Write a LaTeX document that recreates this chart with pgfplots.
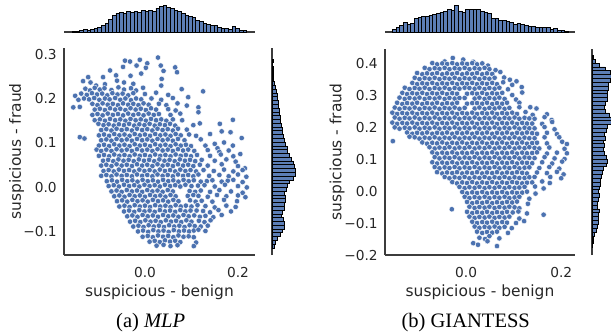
\documentclass[border=0pt]{standalone}
\usepackage{fontspec}
\setmainfont{DejaVu Sans}
\newfontfamily\capfont{Liberation Serif}
\usepackage{pgfplots}
\pgfplotsset{compat=1.18}
\definecolor{sbblue}{RGB}{76,114,176}
\definecolor{sbbar}{RGB}{92,126,182}
\definecolor{spine}{RGB}{60,60,60}
\definecolor{txt}{RGB}{38,38,38}
\newcommand{\tickfont}{\fontsize{10.3}{12}\selectfont}
\newcommand{\labfont}{\fontsize{11.6}{14}\selectfont}
\pgfplotsset{
  scat/.style={scale only axis, axis x line*=bottom, axis y line*=left,
    axis line style={spine, line width=0.9pt}, major tick length=0pt,
    tick label style={font=\tickfont, text=txt},
    label style={font=\labfont, text=txt},
    xtick={0,0.2}, xticklabels={0.0,0.2},
    xticklabel style={anchor=north, inner sep=0pt, yshift=-9.2pt},
    yticklabel style={anchor=east, inner sep=0pt, xshift=-5.25pt},
    xlabel={suspicious - benign}, ylabel={suspicious - fraud}},
  pts/.style={only marks, mark=*, mark size=2.05pt,
    mark options={fill=sbblue, draw=white, line width=0.3pt}},
  hst/.style={scale only axis, axis line style={spine, line width=0.9pt}, ticks=none},
  bars/.style={fill=sbbar, draw=black, line width=0.45pt},
}
\begin{document}
\begin{tikzpicture}
\useasboundingbox (0,0) rectangle (458.25pt,249.75pt);
% ---------------- (a) MLP ----------------
\begin{axis}[scat, at={(48pt,58.5pt)}, anchor=south west, width=143.25pt, height=155.25pt,
  xmin=-0.174, xmax=0.2366, ymin=-0.152, ymax=0.3135,
  ytick={-0.1,0,0.1,0.2,0.3}, yticklabels={−0.1,0.0,0.1,0.2,0.3},
  xlabel style={at={(axis description cs:0.5,-0.2014)}, anchor=base},
  ylabel style={at={(axis description cs:-0.2487,0.5)}, anchor=center}]
\addplot[pts] table[row sep=\\] {x y\\
-0.043 0.285\\ -0.032 0.283\\ -0.011 0.287\\ 0.028 0.292\\ 0.005 0.279\\
-0.075 0.263\\ -0.047 0.271\\ -0.018 0.274\\ 0.002 0.269\\ 0.034 0.274\\ 0.065 0.270\\ 0.069 0.259\\ 0.040 0.262\\
-0.122 0.248\\ -0.090 0.248\\ -0.031 0.251\\ 0.036 0.244\\ -0.062 0.252\\ -0.008 0.256\\
-0.133 0.239\\ -0.117 0.236\\ -0.105 0.229\\ -0.086 0.232\\ -0.060 0.240\\ -0.025 0.233\\ 0.035 0.229\\ -0.045 0.236\\
-0.128 0.222\\ -0.118 0.218\\ -0.108 0.224\\ -0.097 0.220\\ -0.087 0.223\\ -0.072 0.219\\ -0.057 0.225\\ -0.045 0.220\\ -0.030 0.223\\ -0.019 0.218\\ -0.004 0.224\\ 0.079 0.221\\ 0.125 0.216\\
-0.150 0.206\\ -0.137 0.211\\ -0.125 0.208\\ -0.114 0.212\\ -0.103 0.209\\ -0.092 0.211\\ -0.081 0.207\\ -0.070 0.212\\ -0.059 0.209\\ -0.048 0.211\\ -0.036 0.207\\ -0.025 0.212\\ 0.000 0.210\\ 0.024 0.213\\ 0.050 0.208\\
-0.143 0.197\\ -0.131 0.200\\ -0.120 0.198\\ -0.109 0.201\\ -0.098 0.197\\ -0.086 0.200\\ -0.076 0.198\\ -0.064 0.201\\ -0.053 0.197\\ -0.042 0.200\\ -0.030 0.196\\ -0.019 0.200\\ -0.008 0.198\\ 0.014 0.200\\ 0.035 0.197\\ 0.060 0.201\\ 0.093 0.203\\
-0.154 0.180\\ -0.140 0.181\\ -0.113 0.188\\ -0.102 0.185\\ -0.091 0.189\\ -0.080 0.186\\ -0.069 0.188\\ -0.058 0.185\\ -0.047 0.189\\ -0.036 0.186\\ -0.025 0.188\\ -0.014 0.185\\ -0.003 0.189\\ 0.008 0.186\\ 0.030 0.188\\ 0.046 0.185\\ 0.070 0.189\\ 0.090 0.184\\ 0.115 0.180\\
-0.108 0.175\\ -0.097 0.177\\ -0.086 0.174\\ -0.075 0.178\\ -0.064 0.175\\ -0.053 0.177\\ -0.042 0.174\\ -0.031 0.178\\ -0.020 0.175\\ -0.009 0.177\\ 0.002 0.174\\ 0.013 0.178\\ 0.024 0.175\\ 0.050 0.176\\ 0.066 0.173\\ 0.115 0.169\\
-0.113 0.163\\ -0.102 0.165\\ -0.091 0.162\\ -0.080 0.166\\ -0.069 0.163\\ -0.058 0.165\\ -0.047 0.162\\ -0.036 0.166\\ -0.025 0.163\\ -0.014 0.165\\ -0.003 0.162\\ 0.008 0.166\\ 0.019 0.163\\ 0.030 0.165\\ 0.055 0.163\\ 0.076 0.166\\
-0.108 0.151\\ -0.097 0.153\\ -0.086 0.150\\ -0.075 0.154\\ -0.064 0.151\\ -0.053 0.153\\ -0.042 0.150\\ -0.031 0.154\\ -0.020 0.151\\ -0.009 0.153\\ 0.002 0.150\\ 0.013 0.154\\ 0.024 0.151\\ 0.035 0.153\\ 0.046 0.150\\ 0.060 0.153\\ 0.080 0.151\\ 0.189 0.152\\
-0.100 0.143\\ -0.089 0.140\\ -0.078 0.142\\ -0.067 0.139\\ -0.056 0.142\\ -0.045 0.140\\ -0.034 0.143\\ -0.023 0.139\\ -0.012 0.142\\ -0.001 0.140\\ 0.010 0.143\\ 0.021 0.139\\ 0.032 0.142\\ 0.043 0.140\\ 0.054 0.143\\ 0.065 0.139\\ 0.104 0.140\\ 0.118 0.144\\ 0.161 0.143\\
-0.094 0.129\\ -0.083 0.131\\ -0.072 0.128\\ -0.061 0.132\\ -0.050 0.129\\ -0.039 0.131\\ -0.028 0.128\\ -0.017 0.132\\ -0.006 0.129\\ 0.005 0.131\\ 0.016 0.128\\ 0.027 0.132\\ 0.038 0.129\\ 0.049 0.131\\ 0.060 0.128\\ 0.071 0.132\\ 0.090 0.130\\ 0.140 0.120\\ 0.165 0.126\\ 0.184 0.124\\
-0.140 0.113\\ -0.130 0.110\\ -0.099 0.117\\ -0.088 0.119\\ -0.077 0.116\\ -0.066 0.120\\ -0.055 0.117\\ -0.044 0.119\\ -0.033 0.116\\ -0.022 0.120\\ -0.011 0.117\\ 0.000 0.119\\ 0.011 0.116\\ 0.022 0.120\\ 0.033 0.117\\ 0.044 0.119\\ 0.055 0.116\\ 0.066 0.120\\ 0.077 0.117\\ 0.095 0.119\\ 0.110 0.116\\ 0.208 0.111\\
-0.094 0.106\\ -0.083 0.108\\ -0.072 0.105\\ -0.061 0.109\\ -0.050 0.106\\ -0.039 0.108\\ -0.028 0.105\\ -0.017 0.109\\ -0.006 0.106\\ 0.005 0.108\\ 0.016 0.105\\ 0.027 0.109\\ 0.038 0.106\\ 0.049 0.108\\ 0.060 0.105\\ 0.071 0.109\\ 0.085 0.106\\ 0.120 0.108\\ 0.150 0.098\\ 0.170 0.101\\ 0.189 0.094\\
-0.099 0.094\\ -0.088 0.096\\ -0.077 0.093\\ -0.066 0.097\\ -0.055 0.094\\ -0.044 0.096\\ -0.033 0.093\\ -0.022 0.097\\ -0.011 0.094\\ 0.000 0.096\\ 0.011 0.093\\ 0.022 0.097\\ 0.033 0.094\\ 0.044 0.096\\ 0.055 0.093\\ 0.066 0.097\\ 0.077 0.094\\ 0.088 0.096\\ 0.099 0.093\\ 0.130 0.094\\ 0.156 0.088\\
-0.104 0.085\\ -0.094 0.082\\ -0.083 0.085\\ -0.072 0.082\\ -0.061 0.086\\ -0.050 0.083\\ -0.039 0.085\\ -0.028 0.082\\ -0.017 0.086\\ -0.006 0.083\\ 0.005 0.085\\ 0.016 0.082\\ 0.027 0.086\\ 0.038 0.083\\ 0.049 0.085\\ 0.060 0.082\\ 0.071 0.086\\ 0.082 0.083\\ 0.093 0.085\\ 0.106 0.082\\ 0.135 0.084\\ 0.160 0.080\\ 0.180 0.083\\
-0.099 0.071\\ -0.088 0.073\\ -0.077 0.070\\ -0.066 0.074\\ -0.055 0.071\\ -0.044 0.073\\ -0.033 0.070\\ -0.022 0.074\\ -0.011 0.071\\ 0.000 0.073\\ 0.011 0.070\\ 0.022 0.074\\ 0.033 0.071\\ 0.044 0.073\\ 0.055 0.070\\ 0.066 0.074\\ 0.077 0.071\\ 0.088 0.073\\ 0.099 0.070\\ 0.112 0.073\\ 0.140 0.071\\ 0.163 0.074\\ 0.190 0.070\\ 0.205 0.075\\
-0.090 0.060\\ -0.079 0.062\\ -0.068 0.059\\ -0.057 0.063\\ -0.046 0.060\\ -0.035 0.062\\ -0.024 0.059\\ -0.013 0.063\\ -0.002 0.060\\ 0.009 0.062\\ 0.020 0.059\\ 0.031 0.063\\ 0.042 0.060\\ 0.053 0.062\\ 0.064 0.059\\ 0.075 0.063\\ 0.086 0.060\\ 0.097 0.062\\ 0.108 0.059\\ 0.122 0.062\\ 0.150 0.060\\ 0.175 0.063\\ 0.195 0.058\\
-0.094 0.049\\ -0.083 0.051\\ -0.072 0.048\\ -0.061 0.052\\ -0.050 0.049\\ -0.039 0.051\\ -0.028 0.048\\ -0.017 0.052\\ -0.006 0.049\\ 0.005 0.051\\ 0.016 0.048\\ 0.027 0.052\\ 0.038 0.049\\ 0.049 0.051\\ 0.060 0.048\\ 0.071 0.052\\ 0.082 0.049\\ 0.093 0.051\\ 0.104 0.048\\ 0.118 0.051\\ 0.135 0.049\\ 0.165 0.052\\ 0.200 0.048\\ 0.215 0.043\\
-0.089 0.037\\ -0.078 0.039\\ -0.067 0.036\\ -0.056 0.040\\ -0.045 0.037\\ -0.034 0.039\\ -0.023 0.036\\ -0.012 0.040\\ -0.001 0.037\\ 0.010 0.039\\ 0.021 0.036\\ 0.032 0.040\\ 0.043 0.037\\ 0.054 0.039\\ 0.065 0.036\\ 0.076 0.040\\ 0.087 0.037\\ 0.098 0.039\\ 0.110 0.036\\ 0.126 0.039\\ 0.148 0.037\\ 0.170 0.040\\ 0.190 0.036\\ 0.210 0.039\\
-0.094 0.026\\ -0.083 0.028\\ -0.072 0.025\\ -0.061 0.029\\ -0.050 0.026\\ -0.039 0.028\\ -0.028 0.025\\ -0.017 0.029\\ -0.006 0.026\\ 0.005 0.028\\ 0.016 0.025\\ 0.027 0.029\\ 0.038 0.026\\ 0.049 0.028\\ 0.060 0.025\\ 0.071 0.029\\ 0.082 0.026\\ 0.093 0.028\\ 0.104 0.025\\ 0.115 0.029\\ 0.138 0.026\\ 0.160 0.028\\ 0.180 0.025\\ 0.200 0.029\\ 0.218 0.024\\
-0.082 0.014\\ -0.071 0.016\\ -0.060 0.013\\ -0.049 0.017\\ -0.038 0.014\\ -0.027 0.016\\ -0.016 0.013\\ -0.005 0.017\\ 0.006 0.014\\ 0.017 0.016\\ 0.028 0.013\\ 0.039 0.017\\ 0.050 0.014\\ 0.061 0.016\\ 0.072 0.013\\ 0.083 0.017\\ 0.094 0.014\\ 0.105 0.016\\ 0.120 0.013\\ 0.133 0.014\\ 0.145 0.016\\ 0.165 0.013\\ 0.178 0.015\\ 0.190 0.017\\ 0.210 0.012\\
-0.078 0.003\\ -0.067 0.005\\ -0.056 0.002\\ -0.045 0.006\\ -0.034 0.003\\ -0.023 0.005\\ -0.012 0.002\\ -0.001 0.006\\ 0.010 0.003\\ 0.021 0.005\\ 0.032 0.002\\ 0.043 0.006\\ 0.054 0.003\\ 0.065 0.005\\ 0.076 0.002\\ 0.087 0.006\\ 0.100 0.003\\ 0.114 0.004\\ 0.128 0.005\\ 0.150 0.002\\ 0.172 0.006\\ 0.200 0.003\\ 0.219 0.000\\
-0.072 -0.009\\ -0.061 -0.007\\ -0.050 -0.010\\ -0.039 -0.006\\ -0.028 -0.009\\ -0.017 -0.007\\ -0.006 -0.010\\ 0.005 -0.006\\ 0.016 -0.009\\ 0.027 -0.007\\ 0.038 -0.010\\ 0.049 -0.006\\ 0.060 -0.009\\ 0.096 -0.008\\ 0.108 -0.010\\ 0.120 -0.007\\ 0.140 -0.010\\ 0.160 -0.006\\ 0.185 -0.009\\ 0.210 -0.012\\
-0.066 -0.020\\ -0.055 -0.018\\ -0.044 -0.021\\ -0.033 -0.017\\ -0.022 -0.020\\ -0.011 -0.018\\ 0.000 -0.021\\ 0.011 -0.017\\ 0.022 -0.020\\ 0.033 -0.018\\ 0.044 -0.021\\ 0.055 -0.017\\ 0.066 -0.020\\ 0.092 -0.019\\ 0.104 -0.017\\ 0.115 -0.019\\ 0.135 -0.021\\ 0.155 -0.017\\ 0.175 -0.020\\ 0.200 -0.018\\ 0.216 -0.022\\
-0.060 -0.031\\ -0.049 -0.029\\ -0.038 -0.032\\ -0.027 -0.028\\ -0.016 -0.031\\ -0.005 -0.029\\ 0.006 -0.032\\ 0.017 -0.028\\ 0.028 -0.031\\ 0.039 -0.029\\ 0.050 -0.032\\ 0.061 -0.028\\ 0.072 -0.031\\ 0.097 -0.029\\ 0.109 -0.032\\ 0.122 -0.030\\ 0.145 -0.032\\ 0.170 -0.028\\ 0.198 -0.031\\
-0.055 -0.043\\ -0.044 -0.041\\ -0.033 -0.044\\ -0.022 -0.040\\ -0.011 -0.043\\ 0.000 -0.041\\ 0.011 -0.044\\ 0.022 -0.040\\ 0.033 -0.043\\ 0.044 -0.041\\ 0.055 -0.044\\ 0.066 -0.040\\ 0.077 -0.043\\ 0.088 -0.041\\ 0.100 -0.043\\ 0.113 -0.040\\ 0.130 -0.042\\ 0.150 -0.045\\ 0.175 -0.041\\ 0.195 -0.044\\
-0.045 -0.054\\ -0.034 -0.052\\ -0.023 -0.055\\ -0.012 -0.051\\ -0.001 -0.054\\ 0.010 -0.052\\ 0.021 -0.055\\ 0.032 -0.051\\ 0.043 -0.054\\ 0.054 -0.052\\ 0.065 -0.055\\ 0.076 -0.051\\ 0.087 -0.054\\ 0.098 -0.052\\ 0.111 -0.052\\ 0.125 -0.053\\ 0.140 -0.056\\ 0.158 -0.051\\ 0.185 -0.054\\
-0.038 -0.065\\ -0.027 -0.063\\ -0.016 -0.066\\ -0.005 -0.062\\ 0.006 -0.065\\ 0.017 -0.063\\ 0.028 -0.066\\ 0.039 -0.062\\ 0.050 -0.065\\ 0.061 -0.063\\ 0.072 -0.066\\ 0.083 -0.062\\ 0.094 -0.065\\ 0.106 -0.063\\ 0.118 -0.066\\ 0.130 -0.064\\ 0.147 -0.067\\ 0.165 -0.062\\
-0.032 -0.077\\ -0.021 -0.075\\ -0.010 -0.078\\ 0.001 -0.074\\ 0.012 -0.077\\ 0.023 -0.075\\ 0.034 -0.078\\ 0.045 -0.074\\ 0.056 -0.077\\ 0.067 -0.075\\ 0.078 -0.078\\ 0.089 -0.074\\ 0.100 -0.077\\ 0.116 -0.075\\ 0.128 -0.078\\ 0.141 -0.074\\
-0.025 -0.088\\ -0.014 -0.086\\ -0.003 -0.089\\ 0.008 -0.085\\ 0.019 -0.088\\ 0.030 -0.086\\ 0.041 -0.089\\ 0.052 -0.085\\ 0.063 -0.088\\ 0.074 -0.086\\ 0.085 -0.089\\ 0.096 -0.085\\ 0.107 -0.087\\ 0.120 -0.088\\ 0.135 -0.086\\
-0.015 -0.099\\ -0.004 -0.097\\ 0.007 -0.100\\ 0.018 -0.096\\ 0.029 -0.099\\ 0.040 -0.097\\ 0.051 -0.100\\ 0.062 -0.096\\ 0.073 -0.099\\ 0.084 -0.097\\ 0.095 -0.099\\ 0.105 -0.097\\ 0.115 -0.095\\ 0.130 -0.098\\
-0.005 -0.111\\ 0.006 -0.109\\ 0.017 -0.112\\ 0.028 -0.108\\ 0.039 -0.111\\ 0.050 -0.109\\ 0.061 -0.112\\ 0.072 -0.108\\ 0.083 -0.111\\ 0.094 -0.110\\ 0.105 -0.112\\
0.010 -0.122\\ 0.021 -0.120\\ 0.032 -0.123\\ 0.043 -0.119\\ 0.054 -0.122\\ 0.065 -0.120\\ 0.076 -0.123\\ 0.110 -0.124\\
0.025 -0.131\\ 0.040 -0.129\\ 0.055 -0.132\\ 0.070 -0.130\\ 0.105 -0.132\\
};
\end{axis}
\begin{axis}[hst, at={(48pt,225.75pt)}, anchor=south west, width=143.25pt, height=21pt,
  axis x line*=bottom, axis y line=none, xmin=-0.174, xmax=0.2366, ymin=0, ymax=28]
\addplot[ybar interval, bars] coordinates {
(-0.1560,0.5) (-0.1482,1) (-0.1404,1.5) (-0.1326,2.5) (-0.1248,2) (-0.1170,3) (-0.1092,4) (-0.1014,5)
(-0.0936,7) (-0.0858,9) (-0.0780,13) (-0.0702,17) (-0.0624,19) (-0.0546,20) (-0.0468,19) (-0.0390,21)
(-0.0312,20) (-0.0234,21) (-0.0156,20) (-0.0078,22) (0.0000,21) (0.0078,22) (0.0156,21) (0.0234,24)
(0.0312,26) (0.0390,27) (0.0468,25) (0.0546,24) (0.0624,22) (0.0702,21) (0.0780,19) (0.0858,17)
(0.0936,16) (0.1014,15) (0.1092,12) (0.1170,11) (0.1248,9) (0.1326,8) (0.1404,7) (0.1482,7)
(0.1560,5) (0.1638,4) (0.1716,4) (0.1794,3) (0.1872,6) (0.1950,4) (0.2028,2) (0.2106,2) (0.2184,2)};
\end{axis}
\begin{axis}[hst, at={(204pt,58.5pt)}, anchor=south west, width=22.5pt, height=155.25pt,
  axis y line*=left, axis x line=none, xmin=0, xmax=30, ymin=-0.152, ymax=0.3135]
\addplot[xbar interval, bars] coordinates {
(2,-0.1360) (3,-0.1275) (5,-0.1190) (8,-0.1105) (10,-0.1020) (12,-0.0935) (12,-0.0850) (11,-0.0765)
(9,-0.0680) (10,-0.0595) (12,-0.0510) (12,-0.0425) (13,-0.0340) (13,-0.0255) (12,-0.0170) (14,-0.0085)
(15,0.0000) (17,0.0085) (21,0.0170) (23,0.0255) (23,0.0340) (22,0.0425) (21,0.0510) (19,0.0595)
(17,0.0680) (15,0.0765) (15,0.0850) (13,0.0935) (12,0.1020) (11,0.1105) (10,0.1190) (10,0.1275)
(9,0.1360) (8,0.1445) (8,0.1530) (7,0.1615) (7,0.1700) (6,0.1785) (6,0.1870) (5,0.1955)
(5,0.2040) (4,0.2125) (3,0.2210) (2,0.2295) (1.5,0.2380) (1,0.2465) (1,0.2550) (1,0.2635)
(0.5,0.2720) (1,0.2805) (1,0.2890)};
\end{axis}
% ---------------- (b) GIANTESS ----------------
\begin{axis}[scat, at={(288.75pt,58.5pt)}, anchor=south west, width=142.5pt, height=154.5pt,
  xmin=-0.1705, xmax=0.229, ymin=-0.2, ymax=0.444,
  ytick={-0.2,-0.1,0,0.1,0.2,0.3,0.4}, yticklabels={−0.2,−0.1,0.0,0.1,0.2,0.3,0.4},
  xlabel style={at={(axis description cs:0.5,-0.2024)}, anchor=base},
  ylabel style={at={(axis description cs:-0.2526,0.5)}, anchor=center}]
\addplot[pts] table[row sep=\\] {x y\\
-0.045 0.405\\ -0.028 0.416\\ -0.006 0.411\\ 0.015 0.404\\
-0.071 0.400\\ -0.061 0.396\\ -0.050 0.399\\ -0.040 0.397\\ -0.029 0.400\\ -0.019 0.396\\ -0.008 0.399\\ 0.002 0.397\\ 0.013 0.400\\ 0.023 0.396\\ 0.034 0.399\\ 0.046 0.392\\
-0.087 0.385\\ -0.077 0.381\\ -0.066 0.384\\ -0.056 0.382\\ -0.045 0.385\\ -0.035 0.381\\ -0.024 0.384\\ -0.014 0.382\\ -0.003 0.385\\ 0.007 0.381\\ 0.018 0.384\\ 0.028 0.382\\ 0.039 0.385\\ 0.049 0.381\\ 0.062 0.378\\
-0.103 0.369\\ -0.092 0.365\\ -0.082 0.368\\ -0.071 0.366\\ -0.061 0.369\\ -0.050 0.365\\ -0.040 0.368\\ -0.029 0.366\\ -0.019 0.369\\ -0.008 0.365\\ 0.002 0.368\\ 0.013 0.366\\ 0.023 0.369\\ 0.034 0.365\\ 0.044 0.368\\ 0.055 0.366\\ 0.072 0.372\\
-0.108 0.354\\ -0.098 0.350\\ -0.087 0.353\\ -0.077 0.351\\ -0.066 0.354\\ -0.056 0.350\\ -0.045 0.353\\ -0.035 0.351\\ -0.024 0.354\\ -0.014 0.350\\ -0.003 0.353\\ 0.007 0.351\\ 0.018 0.354\\ 0.028 0.350\\ 0.039 0.353\\ 0.049 0.351\\ 0.060 0.354\\ 0.080 0.355\\ 0.092 0.348\\
-0.113 0.338\\ -0.103 0.334\\ -0.092 0.337\\ -0.082 0.335\\ -0.071 0.338\\ -0.061 0.334\\ -0.050 0.337\\ -0.040 0.335\\ -0.029 0.338\\ -0.019 0.334\\ -0.008 0.337\\ 0.002 0.335\\ 0.013 0.338\\ 0.023 0.334\\ 0.034 0.337\\ 0.044 0.335\\ 0.055 0.338\\ 0.065 0.334\\ 0.078 0.340\\ 0.097 0.332\\ 0.106 0.343\\
-0.129 0.323\\ -0.119 0.319\\ -0.108 0.322\\ -0.098 0.320\\ -0.087 0.323\\ -0.077 0.319\\ -0.066 0.322\\ -0.056 0.320\\ -0.045 0.323\\ -0.035 0.319\\ -0.024 0.322\\ -0.014 0.320\\ -0.003 0.323\\ 0.007 0.322\\ 0.018 0.320\\ 0.028 0.323\\ 0.039 0.319\\ 0.049 0.322\\ 0.060 0.320\\ 0.070 0.323\\ 0.088 0.318\\ 0.117 0.325\\
-0.134 0.307\\ -0.124 0.303\\ -0.113 0.306\\ -0.103 0.304\\ -0.092 0.307\\ -0.082 0.303\\ -0.071 0.306\\ -0.061 0.304\\ -0.050 0.307\\ -0.040 0.303\\ -0.029 0.306\\ -0.019 0.304\\ 0.002 0.304\\ 0.013 0.306\\ 0.023 0.304\\ 0.034 0.307\\ 0.044 0.303\\ 0.055 0.306\\ 0.065 0.304\\ 0.076 0.307\\ 0.097 0.300\\ 0.118 0.308\\
-0.140 0.292\\ -0.129 0.288\\ -0.119 0.291\\ -0.108 0.289\\ -0.098 0.292\\ -0.087 0.288\\ -0.077 0.291\\ -0.066 0.289\\ -0.056 0.292\\ -0.045 0.288\\ -0.035 0.291\\ -0.024 0.289\\ -0.014 0.291\\ -0.003 0.291\\ 0.018 0.289\\ 0.028 0.292\\ 0.039 0.288\\ 0.049 0.291\\ 0.060 0.289\\ 0.070 0.292\\ 0.081 0.288\\ 0.105 0.286\\
-0.145 0.276\\ -0.134 0.272\\ -0.124 0.275\\ -0.113 0.273\\ -0.103 0.276\\ -0.092 0.272\\ -0.082 0.275\\ -0.071 0.273\\ -0.061 0.276\\ -0.050 0.272\\ -0.040 0.275\\ -0.029 0.273\\ -0.019 0.276\\ 0.002 0.273\\ 0.013 0.275\\ 0.023 0.275\\ 0.034 0.273\\ 0.044 0.276\\ 0.055 0.272\\ 0.065 0.275\\ 0.076 0.273\\ 0.086 0.276\\ 0.112 0.276\\
-0.150 0.261\\ -0.140 0.257\\ -0.129 0.260\\ -0.119 0.258\\ -0.108 0.261\\ -0.098 0.257\\ -0.087 0.260\\ -0.077 0.258\\ -0.066 0.261\\ -0.056 0.257\\ -0.045 0.260\\ -0.035 0.258\\ -0.024 0.261\\ -0.014 0.257\\ -0.003 0.260\\ 0.018 0.258\\ 0.028 0.261\\ 0.039 0.257\\ 0.049 0.260\\ 0.060 0.258\\ 0.070 0.261\\ 0.081 0.257\\ 0.091 0.260\\ 0.112 0.262\\ 0.135 0.262\\ 0.148 0.258\\
-0.155 0.245\\ -0.145 0.241\\ -0.134 0.244\\ -0.124 0.242\\ -0.113 0.245\\ -0.103 0.241\\ -0.092 0.244\\ -0.082 0.242\\ -0.071 0.245\\ -0.061 0.241\\ -0.050 0.244\\ -0.040 0.242\\ -0.029 0.245\\ -0.019 0.241\\ -0.008 0.244\\ 0.002 0.242\\ 0.013 0.245\\ 0.023 0.241\\ 0.034 0.244\\ 0.044 0.242\\ 0.055 0.245\\ 0.065 0.241\\ 0.076 0.244\\ 0.086 0.242\\ 0.097 0.245\\ 0.107 0.241\\ 0.125 0.247\\ 0.140 0.238\\ 0.170 0.240\\
-0.150 0.230\\ -0.140 0.226\\ -0.129 0.229\\ -0.119 0.227\\ -0.108 0.230\\ -0.098 0.226\\ -0.087 0.229\\ -0.077 0.227\\ -0.066 0.230\\ -0.056 0.226\\ -0.045 0.229\\ -0.035 0.227\\ -0.024 0.230\\ -0.014 0.226\\ -0.003 0.229\\ 0.007 0.227\\ 0.018 0.230\\ 0.028 0.226\\ 0.039 0.229\\ 0.049 0.227\\ 0.060 0.230\\ 0.070 0.226\\ 0.081 0.229\\ 0.091 0.227\\ 0.102 0.230\\ 0.112 0.226\\ 0.123 0.229\\ 0.133 0.227\\ 0.144 0.226\\ 0.165 0.231\\ 0.180 0.222\\
-0.155 0.214\\ -0.145 0.210\\ -0.134 0.213\\ -0.124 0.211\\ -0.113 0.214\\ -0.103 0.210\\ -0.092 0.213\\ -0.082 0.211\\ -0.071 0.214\\ -0.061 0.210\\ -0.050 0.213\\ -0.040 0.211\\ -0.029 0.214\\ -0.019 0.210\\ -0.008 0.213\\ 0.002 0.211\\ 0.013 0.214\\ 0.023 0.210\\ 0.034 0.213\\ 0.044 0.211\\ 0.055 0.214\\ 0.065 0.210\\ 0.076 0.213\\ 0.086 0.211\\ 0.097 0.214\\ 0.107 0.210\\ 0.118 0.213\\ 0.128 0.211\\ 0.139 0.211\\ 0.160 0.210\\ 0.181 0.216\\
-0.150 0.199\\ -0.140 0.195\\ -0.129 0.198\\ -0.119 0.196\\ -0.108 0.199\\ -0.098 0.195\\ -0.087 0.198\\ -0.077 0.196\\ -0.066 0.199\\ -0.056 0.195\\ -0.045 0.198\\ -0.035 0.196\\ -0.024 0.199\\ -0.014 0.195\\ -0.003 0.198\\ 0.007 0.196\\ 0.018 0.199\\ 0.028 0.195\\ 0.039 0.198\\ 0.049 0.196\\ 0.060 0.199\\ 0.070 0.195\\ 0.081 0.198\\ 0.091 0.196\\ 0.102 0.199\\ 0.112 0.195\\ 0.123 0.198\\ 0.133 0.196\\ 0.144 0.196\\ 0.165 0.200\\ 0.186 0.193\\
-0.124 0.183\\ -0.113 0.179\\ -0.103 0.182\\ -0.092 0.180\\ -0.082 0.183\\ -0.071 0.179\\ -0.061 0.182\\ -0.050 0.180\\ -0.040 0.183\\ -0.029 0.179\\ -0.019 0.182\\ -0.008 0.180\\ 0.002 0.183\\ 0.013 0.179\\ 0.023 0.182\\ 0.034 0.180\\ 0.044 0.183\\ 0.055 0.179\\ 0.065 0.182\\ 0.076 0.180\\ 0.086 0.183\\ 0.097 0.179\\ 0.107 0.182\\ 0.118 0.180\\ 0.128 0.183\\ 0.139 0.181\\ 0.149 0.179\\ 0.170 0.182\\ 0.191 0.178\\
-0.119 0.170\\ -0.108 0.168\\ -0.098 0.164\\ -0.087 0.167\\ -0.077 0.165\\ -0.066 0.168\\ -0.056 0.164\\ -0.045 0.167\\ -0.035 0.165\\ -0.024 0.168\\ -0.014 0.164\\ -0.003 0.167\\ 0.007 0.165\\ 0.018 0.168\\ 0.028 0.164\\ 0.039 0.167\\ 0.049 0.165\\ 0.060 0.168\\ 0.070 0.164\\ 0.081 0.167\\ 0.091 0.165\\ 0.102 0.168\\ 0.112 0.164\\ 0.123 0.167\\ 0.133 0.165\\ 0.144 0.165\\ 0.165 0.168\\ 0.196 0.168\\
-0.154 0.156\\ -0.092 0.152\\ -0.082 0.148\\ -0.071 0.151\\ -0.061 0.149\\ -0.050 0.152\\ -0.040 0.148\\ -0.029 0.151\\ -0.019 0.149\\ -0.008 0.152\\ 0.002 0.148\\ 0.013 0.151\\ 0.023 0.149\\ 0.034 0.152\\ 0.044 0.148\\ 0.055 0.151\\ 0.065 0.149\\ 0.076 0.152\\ 0.086 0.148\\ 0.097 0.151\\ 0.107 0.149\\ 0.118 0.152\\ 0.128 0.148\\ 0.139 0.150\\ 0.149 0.151\\ 0.170 0.149\\ 0.202 0.154\\ 0.212 0.147\\
-0.077 0.137\\ -0.066 0.133\\ -0.056 0.136\\ -0.045 0.134\\ -0.035 0.137\\ -0.024 0.133\\ -0.014 0.136\\ -0.003 0.134\\ 0.007 0.137\\ 0.018 0.133\\ 0.028 0.136\\ 0.039 0.134\\ 0.049 0.137\\ 0.060 0.133\\ 0.070 0.136\\ 0.081 0.134\\ 0.091 0.137\\ 0.102 0.133\\ 0.112 0.136\\ 0.123 0.134\\ 0.133 0.137\\ 0.144 0.135\\ 0.154 0.133\\ 0.175 0.136\\ 0.207 0.132\\
-0.071 0.121\\ -0.061 0.117\\ -0.050 0.120\\ -0.040 0.118\\ -0.029 0.121\\ -0.019 0.117\\ -0.008 0.120\\ 0.002 0.118\\ 0.013 0.121\\ 0.023 0.117\\ 0.034 0.120\\ 0.044 0.118\\ 0.055 0.121\\ 0.065 0.117\\ 0.076 0.120\\ 0.086 0.118\\ 0.097 0.121\\ 0.107 0.117\\ 0.118 0.120\\ 0.128 0.118\\ 0.139 0.119\\ 0.149 0.121\\ 0.170 0.117\\ 0.191 0.120\\ 0.212 0.118\\
-0.066 0.106\\ -0.056 0.102\\ -0.045 0.105\\ -0.035 0.103\\ -0.024 0.106\\ -0.014 0.102\\ -0.003 0.105\\ 0.007 0.103\\ 0.018 0.106\\ 0.028 0.102\\ 0.039 0.105\\ 0.049 0.103\\ 0.060 0.106\\ 0.070 0.102\\ 0.081 0.105\\ 0.091 0.103\\ 0.102 0.106\\ 0.112 0.102\\ 0.123 0.105\\ 0.133 0.104\\ 0.144 0.103\\ 0.165 0.106\\ 0.186 0.102\\ 0.207 0.100\\
-0.071 0.090\\ -0.061 0.086\\ -0.050 0.089\\ -0.040 0.087\\ -0.029 0.090\\ -0.019 0.086\\ -0.008 0.089\\ 0.002 0.087\\ 0.013 0.090\\ 0.023 0.086\\ 0.034 0.089\\ 0.044 0.087\\ 0.055 0.090\\ 0.065 0.086\\ 0.076 0.089\\ 0.086 0.087\\ 0.097 0.090\\ 0.107 0.086\\ 0.118 0.089\\ 0.128 0.088\\ 0.139 0.087\\ 0.160 0.090\\ 0.181 0.086\\ 0.202 0.092\\
-0.066 0.075\\ -0.056 0.071\\ -0.045 0.074\\ -0.035 0.072\\ -0.024 0.075\\ -0.014 0.071\\ -0.003 0.074\\ 0.007 0.072\\ 0.018 0.075\\ 0.028 0.071\\ 0.039 0.074\\ 0.049 0.072\\ 0.060 0.075\\ 0.070 0.071\\ 0.081 0.074\\ 0.091 0.072\\ 0.102 0.075\\ 0.112 0.071\\ 0.123 0.073\\ 0.133 0.074\\ 0.154 0.072\\ 0.175 0.075\\ 0.196 0.070\\
-0.061 0.059\\ -0.050 0.055\\ -0.040 0.058\\ -0.029 0.056\\ -0.019 0.059\\ -0.008 0.055\\ 0.002 0.058\\ 0.013 0.056\\ 0.023 0.059\\ 0.034 0.055\\ 0.044 0.058\\ 0.055 0.056\\ 0.065 0.059\\ 0.076 0.055\\ 0.086 0.058\\ 0.097 0.056\\ 0.107 0.059\\ 0.118 0.057\\ 0.128 0.055\\ 0.149 0.058\\ 0.170 0.056\\ 0.191 0.060\\ 0.205 0.052\\
-0.045 0.044\\ -0.035 0.040\\ -0.024 0.043\\ -0.014 0.041\\ -0.003 0.044\\ 0.007 0.040\\ 0.018 0.043\\ 0.028 0.041\\ 0.039 0.044\\ 0.049 0.040\\ 0.060 0.043\\ 0.070 0.041\\ 0.081 0.044\\ 0.091 0.040\\ 0.102 0.043\\ 0.112 0.041\\ 0.123 0.041\\ 0.133 0.043\\ 0.144 0.044\\ 0.177 0.044\\ 0.200 0.040\\
-0.029 0.028\\ -0.019 0.024\\ -0.008 0.027\\ 0.002 0.025\\ 0.013 0.028\\ 0.023 0.024\\ 0.034 0.027\\ 0.044 0.025\\ 0.055 0.028\\ 0.065 0.024\\ 0.076 0.027\\ 0.086 0.025\\ 0.097 0.028\\ 0.107 0.026\\ 0.118 0.024\\ 0.128 0.026\\ 0.139 0.027\\ 0.160 0.030\\ 0.176 0.025\\
-0.014 0.013\\ -0.003 0.009\\ 0.007 0.012\\ 0.018 0.010\\ 0.028 0.013\\ 0.039 0.009\\ 0.049 0.012\\ 0.060 0.010\\ 0.070 0.013\\ 0.081 0.009\\ 0.091 0.012\\ 0.102 0.010\\ 0.112 0.011\\ 0.123 0.013\\ 0.145 0.014\\ 0.163 0.008\\
-0.008 -0.003\\ 0.002 -0.007\\ 0.013 -0.004\\ 0.023 -0.006\\ 0.034 -0.003\\ 0.044 -0.007\\ 0.055 -0.004\\ 0.065 -0.006\\ 0.076 -0.003\\ 0.086 -0.007\\ 0.097 -0.004\\ 0.107 -0.006\\ 0.118 -0.005\\ 0.128 -0.002\\ 0.146 -0.008\\
-0.003 -0.018\\ 0.007 -0.022\\ 0.018 -0.019\\ 0.028 -0.021\\ 0.039 -0.018\\ 0.049 -0.022\\ 0.060 -0.019\\ 0.070 -0.021\\ 0.081 -0.018\\ 0.091 -0.022\\ 0.102 -0.020\\ 0.112 -0.018\\ 0.133 -0.024\\
0.002 -0.034\\ 0.013 -0.038\\ 0.023 -0.035\\ 0.034 -0.037\\ 0.044 -0.034\\ 0.055 -0.038\\ 0.065 -0.035\\ 0.076 -0.037\\ 0.086 -0.034\\ 0.097 -0.036\\ 0.107 -0.033\\ 0.130 -0.040\\
-0.030 -0.057\\ 0.007 -0.049\\ 0.018 -0.053\\ 0.028 -0.050\\ 0.039 -0.052\\ 0.049 -0.049\\ 0.060 -0.053\\ 0.070 -0.050\\ 0.081 -0.052\\ 0.091 -0.049\\ 0.102 -0.051\\ 0.112 -0.054\\
0.002 -0.065\\ 0.013 -0.069\\ 0.023 -0.066\\ 0.034 -0.068\\ 0.044 -0.065\\ 0.055 -0.069\\ 0.065 -0.066\\ 0.076 -0.068\\ 0.086 -0.065\\ 0.098 -0.067\\ 0.110 -0.064\\ 0.128 -0.070\\ 0.163 -0.074\\
0.007 -0.080\\ 0.018 -0.084\\ 0.028 -0.081\\ 0.039 -0.083\\ 0.049 -0.080\\ 0.060 -0.084\\ 0.070 -0.081\\ 0.081 -0.083\\ 0.091 -0.080\\ 0.112 -0.086\\
0.013 -0.096\\ 0.023 -0.100\\ 0.034 -0.097\\ 0.044 -0.099\\ 0.055 -0.096\\ 0.065 -0.100\\ 0.076 -0.097\\ 0.086 -0.099\\ 0.105 -0.100\\ 0.122 -0.094\\
0.018 -0.111\\ 0.028 -0.115\\ 0.039 -0.112\\ 0.049 -0.114\\ 0.060 -0.111\\ 0.070 -0.115\\ 0.081 -0.112\\ 0.096 -0.116\\
0.023 -0.127\\ 0.034 -0.131\\ 0.044 -0.128\\ 0.055 -0.130\\ 0.065 -0.127\\ 0.088 -0.131\\
0.028 -0.146\\ 0.049 -0.141\\ 0.070 -0.148\\ 0.040 -0.150\\
0.015 -0.163\\ 0.025 -0.168\\ 0.065 -0.172\\ 0.045 -0.157\\
};
\end{axis}
\begin{axis}[hst, at={(288.75pt,225.75pt)}, anchor=south west, width=142.5pt, height=21pt,
  axis x line*=bottom, axis y line=none, xmin=-0.1705, xmax=0.229, ymin=0, ymax=28]
\addplot[ybar interval, bars] coordinates {
(-0.1550,2.5) (-0.1473,5) (-0.1396,7) (-0.1319,9.5) (-0.1242,8) (-0.1165,8.5) (-0.1088,13.5) (-0.1011,15)
(-0.0934,15.5) (-0.0857,16) (-0.0780,17) (-0.0703,17.5) (-0.0626,18.5) (-0.0549,20) (-0.0472,21) (-0.0395,22.5)
(-0.0318,22) (-0.0241,27) (-0.0164,21) (-0.0087,20) (-0.0010,22.5) (0.0067,23) (0.0144,23) (0.0221,22.5)
(0.0298,21) (0.0375,19.5) (0.0452,18.5) (0.0529,14) (0.0606,13.5) (0.0683,12) (0.0760,11.5) (0.0837,11)
(0.0914,9.5) (0.0991,8) (0.1068,8.5) (0.1145,8) (0.1222,7) (0.1299,5.5) (0.1376,6) (0.1453,4.5)
(0.1530,5) (0.1607,4.5) (0.1684,5) (0.1761,2.5) (0.1838,3.5) (0.1915,2) (0.1992,1.5) (0.2069,1) (0.2146,1)};
\end{axis}
\begin{axis}[hst, at={(444pt,58.5pt)}, anchor=south west, width=14.25pt, height=154.5pt,
  axis y line*=left, axis x line=none, xmin=0, xmax=19, ymin=-0.2, ymax=0.444]
\addplot[xbar interval, bars] coordinates {
(0.7,-0.176) (1,-0.164) (1.7,-0.152) (2,-0.140) (4,-0.128) (5,-0.116) (6,-0.104) (6,-0.092)
(6.5,-0.080) (7.7,-0.068) (5,-0.056) (5.5,-0.044) (6.5,-0.032) (7,-0.020) (6.5,-0.008) (7.5,0.004)
(8.3,0.016) (8,0.028) (9,0.040) (10,0.052) (11,0.064) (14,0.076) (15,0.088) (14,0.100)
(12,0.112) (11.5,0.124) (12,0.136) (11,0.148) (13,0.160) (12.5,0.172) (14,0.184) (15,0.196)
(19,0.208) (19,0.220) (17,0.232) (13,0.244) (12.5,0.256) (13.5,0.268) (15,0.280) (15,0.292)
(15.5,0.304) (16,0.316) (16.5,0.328) (18,0.340) (19,0.352) (18,0.364) (13,0.376) (7,0.388)
(3,0.400) (1.5,0.412) (1.5,0.424)};
\end{axis}
% ---------------- captions ----------------
\node[anchor=base, inner sep=0pt] at (113.0pt,4.5pt) {\capfont\fontsize{15.4}{18}\selectfont (a) \textit{MLP}};
\node[anchor=base, inner sep=0pt] at (349.3pt,4.5pt) {\capfont\fontsize{15.4}{18}\selectfont (b) GIANTESS};
\end{tikzpicture}
\end{document}
